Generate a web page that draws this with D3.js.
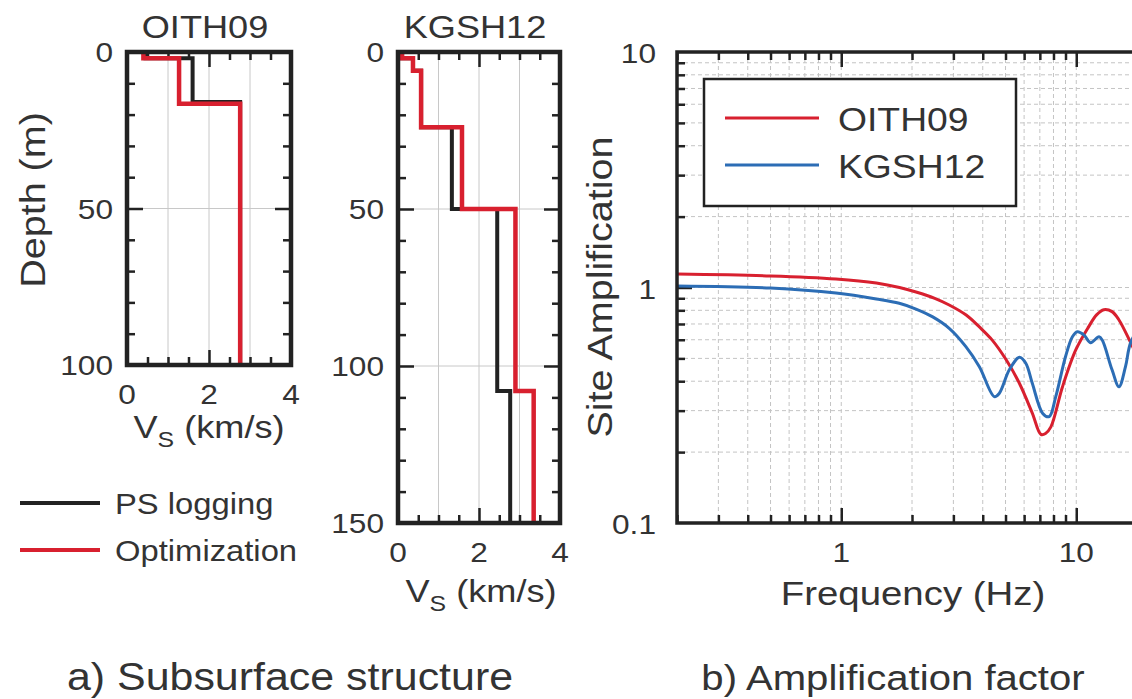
<!DOCTYPE html>
<meta charset="utf-8">
<style>
    body { margin: 0; background: #fff; }
    text { font-family: "Liberation Sans", Arial, sans-serif; fill: #333; }
    .frame { fill: none; stroke: #222; }
    .tick line { stroke: #222; stroke-width: 2.5; }
    .domain { display: none; }
    .grid line { stroke: #c8c8c8; stroke-width: 1; }
    .lgrid line { stroke: #c4c4c4; stroke-width: 1; stroke-dasharray: 4,3; }
</style>
<body>
<svg width="1132" height="699"></svg>
<script src="https://d3js.org/d3.v7.min.js"></script>
<script>
    // ---- data ----
    // OITH09 layered profile: layer boundaries (m) and Vs (km/s) per layer
    var oithDepthPS = [0, 2, 16, 100];
    var oithVsPS = [0.45, 1.6, 2.76];
    var oithDepthOpt = [0, 2, 16.5, 100];
    var oithVsOpt = [0.4, 1.27, 2.76];

    // KGSH12
    var kgshDepth = [0, 2, 6, 24, 50, 108, 150];
    var kgshVsPS = [0.1, 0.37, 0.57, 1.33, 2.45, 2.77];
    var kgshVsOpt = [0.1, 0.37, 0.57, 1.58, 2.9, 3.35];

    // site amplification curves
    var oithFreq = [0.2, 0.5, 0.95, 1.41, 1.77, 2.08, 2.5, 2.88, 3.4, 3.87, 4.39, 5.04, 5.72, 6.5, 7.07, 7.4, 7.8, 8.74, 9.95, 11.3, 12.2, 13.1, 14.2, 15.2, 17.1, 20];
    var oithAmp = [1.14, 1.12, 1.087, 1.045, 1.0, 0.957, 0.9, 0.843, 0.764, 0.68, 0.598, 0.492, 0.393, 0.293, 0.238, 0.24, 0.256, 0.379, 0.543, 0.682, 0.765, 0.805, 0.79, 0.728, 0.579, 0.42];
    var kgshFreq = [0.2, 0.5, 0.95, 1.41, 1.765, 2.08, 2.45, 2.88, 3.39, 3.87, 4.48, 4.7, 5.19, 5.73, 6.1, 6.5, 7.2, 7.67, 8.18, 9.0, 9.63, 10.1, 10.8, 11.5, 12.5, 12.9, 14.2, 15.2, 16.2, 17.1, 20];
    var kgshAmp = [1.015, 0.995, 0.947, 0.894, 0.857, 0.81, 0.75, 0.671, 0.561, 0.461, 0.344, 0.355, 0.447, 0.506, 0.477, 0.392, 0.292, 0.283, 0.344, 0.508, 0.618, 0.649, 0.628, 0.583, 0.618, 0.598, 0.447, 0.379, 0.461, 0.589, 0.75];

    var vsLabels = [0, 2, 4];
    var oithDepthLabels = [0, 50, 100];
    var kgshDepthLabels = [0, 50, 100, 150];
    var freqLabels = [1, 10];
    var ampLabels = [0.1, 1, 10];

    var seriesNames = ["OITH09", "KGSH12"];
    var profileNames = ["PS logging", "Optimization"];
    var red = "#d8202f", blue = "#2c6db5", black = "#222";

    var SX = 1.13; // text in the picture is a bit wide
    var svg = d3.select("svg");

    function txt(g, x, y, s, size, anchor) {
        return g.append("text")
            .attr("transform", "translate(" + x + "," + y + ") scale(" + SX + ",1)")
            .attr("font-size", size)
            .attr("text-anchor", anchor || "middle")
            .text(s);
    }

    function vsTitle(x, y) {
        var t = svg.append("text")
            .attr("transform", "translate(" + x + "," + y + ") scale(" + SX + ",1)")
            .attr("font-size", 32)
            .attr("text-anchor", "middle");
        t.append("tspan").text("V");
        t.append("tspan").attr("font-size", 22).attr("dy", 9).text("S");
        t.append("tspan").attr("dy", -9).text(" (km/s)");
    }

    function profile(d, v) {
        var pts = [];
        v.forEach(function(vs, i) {
            pts.push([vs, d[i]]);
            pts.push([vs, d[i + 1]]);
        });
        return pts;
    }

    function depthPanel(x0, x1, y0, y1, dmax, depthPS, vsPS, depthOpt, vsOpt, title, depthLabels) {
        var x = d3.scaleLinear().domain([0, 4]).range([x0, x1]);
        var y = d3.scaleLinear().domain([0, dmax]).range([y0, y1]);
        var g = svg.append("g");

        // grid
        var grid = g.append("g").attr("class", "grid");
        grid.selectAll(".gx").data([1, 2, 3]).enter().append("line")
            .attr("x1", x).attr("x2", x).attr("y1", y0).attr("y2", y1);
        grid.selectAll(".gy").data(depthLabels.slice(1, -1)).enter().append("line")
            .attr("y1", y).attr("y2", y).attr("x1", x0).attr("x2", x1);

        var minorX = x.ticks(8).filter(function(d) { return d % 2 !== 0; });
        var majorX = x.ticks(8).filter(function(d) { return d % 2 === 0 && d > 0 && d < 4; });
        var minorY = y.ticks(dmax / 10).filter(function(d) { return d % 50 !== 0; });
        var majorY = y.ticks(dmax / 10).filter(function(d) { return d % 50 === 0 && d > 0 && d < dmax; });

        g.append("g").attr("transform", "translate(0," + y1 + ")").call(d3.axisBottom(x).tickValues(minorX).tickSize(-8).tickFormat(""));
        g.append("g").attr("transform", "translate(0," + y1 + ")").call(d3.axisBottom(x).tickValues(majorX).tickSize(-15).tickFormat(""));
        g.append("g").attr("transform", "translate(0," + y0 + ")").call(d3.axisTop(x).tickValues(minorX).tickSize(-8).tickFormat(""));
        g.append("g").attr("transform", "translate(0," + y0 + ")").call(d3.axisTop(x).tickValues(majorX).tickSize(-15).tickFormat(""));
        g.append("g").attr("transform", "translate(" + x0 + ",0)").call(d3.axisLeft(y).tickValues(minorY).tickSize(-8).tickFormat(""));
        g.append("g").attr("transform", "translate(" + x0 + ",0)").call(d3.axisLeft(y).tickValues(majorY).tickSize(-16).tickFormat(""));
        g.append("g").attr("transform", "translate(" + x1 + ",0)").call(d3.axisRight(y).tickValues(minorY).tickSize(-8).tickFormat(""));
        g.append("g").attr("transform", "translate(" + x1 + ",0)").call(d3.axisRight(y).tickValues(majorY).tickSize(-16).tickFormat(""));

        var line = d3.line()
            .x(function(d) { return x(d[0]); })
            .y(function(d) { return y(d[1]); });

        g.append("path").datum(profile(depthPS, vsPS))
            .attr("d", line).attr("fill", "none").attr("stroke", black).attr("stroke-width", 4);
        g.append("path").datum(profile(depthOpt, vsOpt))
            .attr("d", line).attr("fill", "none").attr("stroke", red).attr("stroke-width", 4.5);

        g.append("rect").attr("class", "frame")
            .attr("x", x0).attr("y", y0).attr("width", x1 - x0).attr("height", y1 - y0)
            .attr("stroke-width", 4.5);

        depthLabels.forEach(function(d) { txt(g, x0 - 14, y(d) + 10, d, 28, "end"); });
        vsLabels.forEach(function(d) { txt(g, x(d), y1 + 39, d, 28); });
        txt(g, (x0 + x1) / 2 - 4, 38, title, 32);
        return g;
    }

    depthPanel(127, 291, 52, 365, 100, oithDepthPS, oithVsPS, oithDepthOpt, oithVsOpt, seriesNames[0], oithDepthLabels);
    depthPanel(398, 560, 52, 523, 150, kgshDepth, kgshVsPS, kgshDepth, kgshVsOpt, seriesNames[1], kgshDepthLabels);
    vsTitle(209, 438);
    vsTitle(481, 602);

    svg.append("text")
        .attr("transform", "translate(45,200) rotate(-90) scale(" + SX + ",1)")
        .attr("font-size", 35).attr("text-anchor", "middle").text("Depth (m)");

    // profile legend
    var leg = svg.append("g");
    [[black, 503], [red, 550]].forEach(function(p, i) {
        leg.append("line").attr("x1", 20).attr("x2", 100).attr("y1", p[1]).attr("y2", p[1])
            .attr("stroke", p[0]).attr("stroke-width", 4);
        txt(leg, 115, p[1] + 11, profileNames[i], 29, "start");
    });

    // ---- amplification panel ----
    var fx = d3.scaleLog().domain([0.2, 20]).range([677, 1147]);
    var ay = d3.scaleLog().domain([0.1, 10]).range([523, 52]);
    var ga = svg.append("g");

    var fTicks = fx.ticks();
    var aTicks = ay.ticks();
    var lg = ga.append("g").attr("class", "lgrid");
    lg.selectAll(".vx").data(fTicks).enter().append("line")
        .attr("x1", fx).attr("x2", fx).attr("y1", 52).attr("y2", 523);
    lg.selectAll(".hy").data(aTicks).enter().append("line")
        .attr("y1", ay).attr("y2", ay).attr("x1", 677).attr("x2", 1147);

    function isMajor(d) { return Math.abs(Math.log10(d) - Math.round(Math.log10(d))) < 1e-6; }
    var fMinor = fTicks.filter(function(d) { return !isMajor(d); });
    var fMajor = fTicks.filter(isMajor);
    var aMinor = aTicks.filter(function(d) { return !isMajor(d); });
    var aMajor = [1];

    ga.append("g").attr("transform", "translate(0,523)").call(d3.axisBottom(fx).tickValues(fMinor).tickSize(-8).tickFormat(""));
    ga.append("g").attr("transform", "translate(0,523)").call(d3.axisBottom(fx).tickValues(fMajor).tickSize(-15).tickFormat(""));
    ga.append("g").attr("transform", "translate(0,52)").call(d3.axisTop(fx).tickValues(fMinor).tickSize(-8).tickFormat(""));
    ga.append("g").attr("transform", "translate(0,52)").call(d3.axisTop(fx).tickValues(fMajor).tickSize(-15).tickFormat(""));
    ga.append("g").attr("transform", "translate(677,0)").call(d3.axisLeft(ay).tickValues(aMinor).tickSize(-8).tickFormat(""));
    ga.append("g").attr("transform", "translate(677,0)").call(d3.axisLeft(ay).tickValues(aMajor).tickSize(-15).tickFormat(""));

    var ampLine = d3.line()
        .x(function(d) { return fx(d[0]); })
        .y(function(d) { return ay(d[1]); })
        .curve(d3.curveCatmullRom.alpha(0.5));

    ga.append("path").datum(d3.zip(oithFreq, oithAmp))
        .attr("d", ampLine).attr("fill", "none").attr("stroke", red).attr("stroke-width", 3);
    ga.append("path").datum(d3.zip(kgshFreq, kgshAmp))
        .attr("d", ampLine).attr("fill", "none").attr("stroke", blue).attr("stroke-width", 3);

    ga.append("rect").attr("class", "frame")
        .attr("x", 677).attr("y", 52).attr("width", 1147 - 677).attr("height", 523 - 52)
        .attr("stroke-width", 3.5);

    ampLabels.forEach(function(d) { txt(ga, 656, ay(d) + 11, d, 28, "end"); });
    freqLabels.forEach(function(d) { txt(ga, fx(d), 562, d, 28); });
    txt(ga, 913, 605, "Frequency (Hz)", 34);
    svg.append("text")
        .attr("transform", "translate(612,287) rotate(-90) scale(" + SX + ",1)")
        .attr("font-size", 35).attr("text-anchor", "middle").text("Site Amplification");

    // amplification legend
    var lb = ga.append("g");
    lb.append("rect").attr("x", 704).attr("y", 79).attr("width", 312).attr("height", 127)
        .attr("fill", "#fff").attr("stroke", black).attr("stroke-width", 2.5);
    [[red, 118], [blue, 165]].forEach(function(p, i) {
        lb.append("line").attr("x1", 725).attr("x2", 819).attr("y1", p[1]).attr("y2", p[1])
            .attr("stroke", p[0]).attr("stroke-width", 3);
        txt(lb, 838, p[1] + 13, seriesNames[i], 33, "start");
    });

    // captions
    txt(svg, 290, 690, "a) Subsurface structure", 38);
    txt(svg, 893, 690, "b) Amplification factor", 35.5);
</script>
</body>
